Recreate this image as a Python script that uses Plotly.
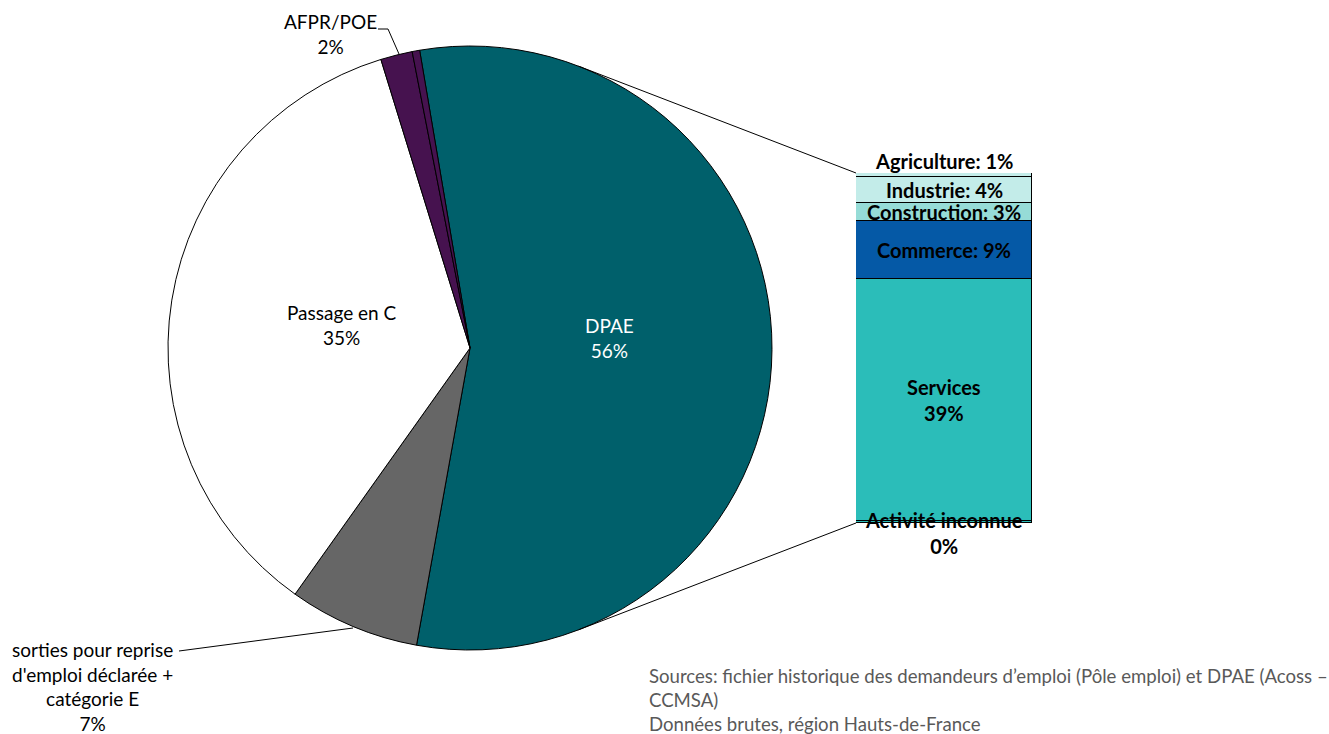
import math
import plotly.graph_objects as go

# ---------------- data ----------------
pie_labels = ["DPAE", "sorties pour reprise<br>d'emploi déclarée +<br>catégorie E", "Passage en C", "AFPR/POE", "Autres"]
pie_values = [55.5, 7.0, 35.4, 1.7, 0.4]
pie_colors = ["#00606B", "#666666", "#FFFFFF", "#46124F", "#46124F"]

bar_labels = ["Agriculture", "Industrie", "Construction", "Commerce", "Services", "Activité inconnue"]
bar_values = [0.6, 4.2, 2.8, 9.2, 38.6, 0.3]
bar_colors = ["#C3ECE9", "#C3ECE9", "#96DCD7", "#0559A6", "#2BBDB9", "#2BBDB9"]
bar_label_sep = [": ", ": ", ": ", ": ", "<br>", "<br>"]

source_text = ("Sources: fichier historique des demandeurs d’emploi (Pôle emploi) et DPAE (Acoss –<br>"
               "CCMSA)<br>Données brutes, région Hauts-de-France")

# ---------------- layout geometry (pixels) ----------------
W, H = 1329, 734
CX, CY, R = 470, 348, 302
BX0, BX1, BY0, BY1 = 856, 1032, 173, 523
FONT = "Lato"


def px(x, y):
    return x / W, 1 - y / H


def pct(v, tot):
    return int(v / tot * 100 + 0.5)


fig = go.Figure()

fig.add_trace(go.Pie(
    labels=pie_labels, values=pie_values, sort=False, direction="clockwise",
    rotation=-9.6, textinfo="none", hoverinfo="skip",
    marker=dict(colors=pie_colors, line=dict(color="#000000", width=1)),
    domain=dict(x=[(CX - R) / W, (CX + R) / W], y=[1 - (CY + R) / H, 1 - (CY - R) / H]),
    showlegend=False,
))

# stacked bar (bottom-up)
for name, val, col in reversed(list(zip(bar_labels, bar_values, bar_colors))):
    fig.add_trace(go.Bar(
        x=[0], y=[val], name=name, marker=dict(color=col, line=dict(color="#000000", width=1)),
        xaxis="x", yaxis="y", hoverinfo="skip", showlegend=False, width=1,
    ))

total_bar = sum(bar_values)
annotations = []

# bar labels
cum = total_bar
for i, (name, val) in enumerate(zip(bar_labels, bar_values)):
    top = cum
    cum -= val
    mid = (top + cum) / 2
    txt = f"<b>{name}{bar_label_sep[i]}{int(val + 0.5)}%</b>"
    yshift = 0
    if i == 0:
        yshift = 12
        mid = top
    elif i == len(bar_labels) - 1:
        yshift = -11
    annotations.append(dict(x=0, y=mid, xref="x", yref="y", text=txt, showarrow=False,
                            xanchor="center", yanchor="middle",
                            yshift=yshift, font=dict(family=FONT, size=20, color="#000000")))

# pie labels
total_pie = sum(pie_values)
pie_label_pos = {0: (609, 338, "#FFFFFF"), 2: (342, 325, "#000000"),
                 3: (330, 34, "#000000"), 1: (92, 686, "#000000")}
for i, (name, val) in enumerate(zip(pie_labels, pie_values)):
    if i not in pie_label_pos:
        continue
    x, y, c = pie_label_pos[i]
    xx, yy = px(x, y)
    annotations.append(dict(x=xx, y=yy, xref="paper", yref="paper", showarrow=False,
                            xanchor="center", yanchor="middle",
                            text=f"{name}<br>{pct(val, total_pie)}%", align="center",
                            font=dict(family=FONT, size=19, color=c)))

# sources
sx, sy = px(647, 663)
annotations.append(dict(x=sx, y=sy, xref="paper", yref="paper", xanchor="left", yanchor="top",
                        showarrow=False, align="left", text=source_text,
                        font=dict(family=FONT, size=18.6, color="#595959")))

# connector lines (tangent from bar corners to pie)
shapes = []
for (pxp, pyp), side in [((BX0, BY0), -1), ((BX0, BY1), 1)]:
    dx, dy = pxp - CX, pyp - CY
    d = math.hypot(dx, dy)
    th = math.atan2(dy, dx)
    a = th + side * math.acos(R / d)
    tx, ty = CX + R * math.cos(a), CY + R * math.sin(a)
    x0, y0 = px(pxp, pyp)
    x1, y1 = px(tx, ty)
    shapes.append(dict(type="line", xref="paper", yref="paper", x0=x0, y0=y0, x1=x1, y1=y1,
                       line=dict(color="#000000", width=1)))

# leader lines
def leader(points):
    path = "M " + " L ".join(f"{px(x, y)[0]},{px(x, y)[1]}" for x, y in points)
    return dict(type="path", xref="paper", yref="paper", path=path,
                line=dict(color="#000000", width=1))

shapes.append(leader([(378, 29), (388, 29), (399, 54)]))
shapes.append(leader([(179, 651), (353, 628)]))

fig.update_layout(
    width=W, height=H, margin=dict(l=0, r=0, t=0, b=0),
    paper_bgcolor="#FFFFFF", plot_bgcolor="rgba(0,0,0,0)",
    barmode="stack", bargap=0,
    xaxis=dict(domain=[BX0 / W, BX1 / W], range=[-0.5, 0.5], visible=False, fixedrange=True),
    yaxis=dict(domain=[1 - BY1 / H, 1 - BY0 / H], range=[0, total_bar], visible=False, fixedrange=True),
    annotations=annotations, shapes=shapes,
)

fig.write_html("out.html")
